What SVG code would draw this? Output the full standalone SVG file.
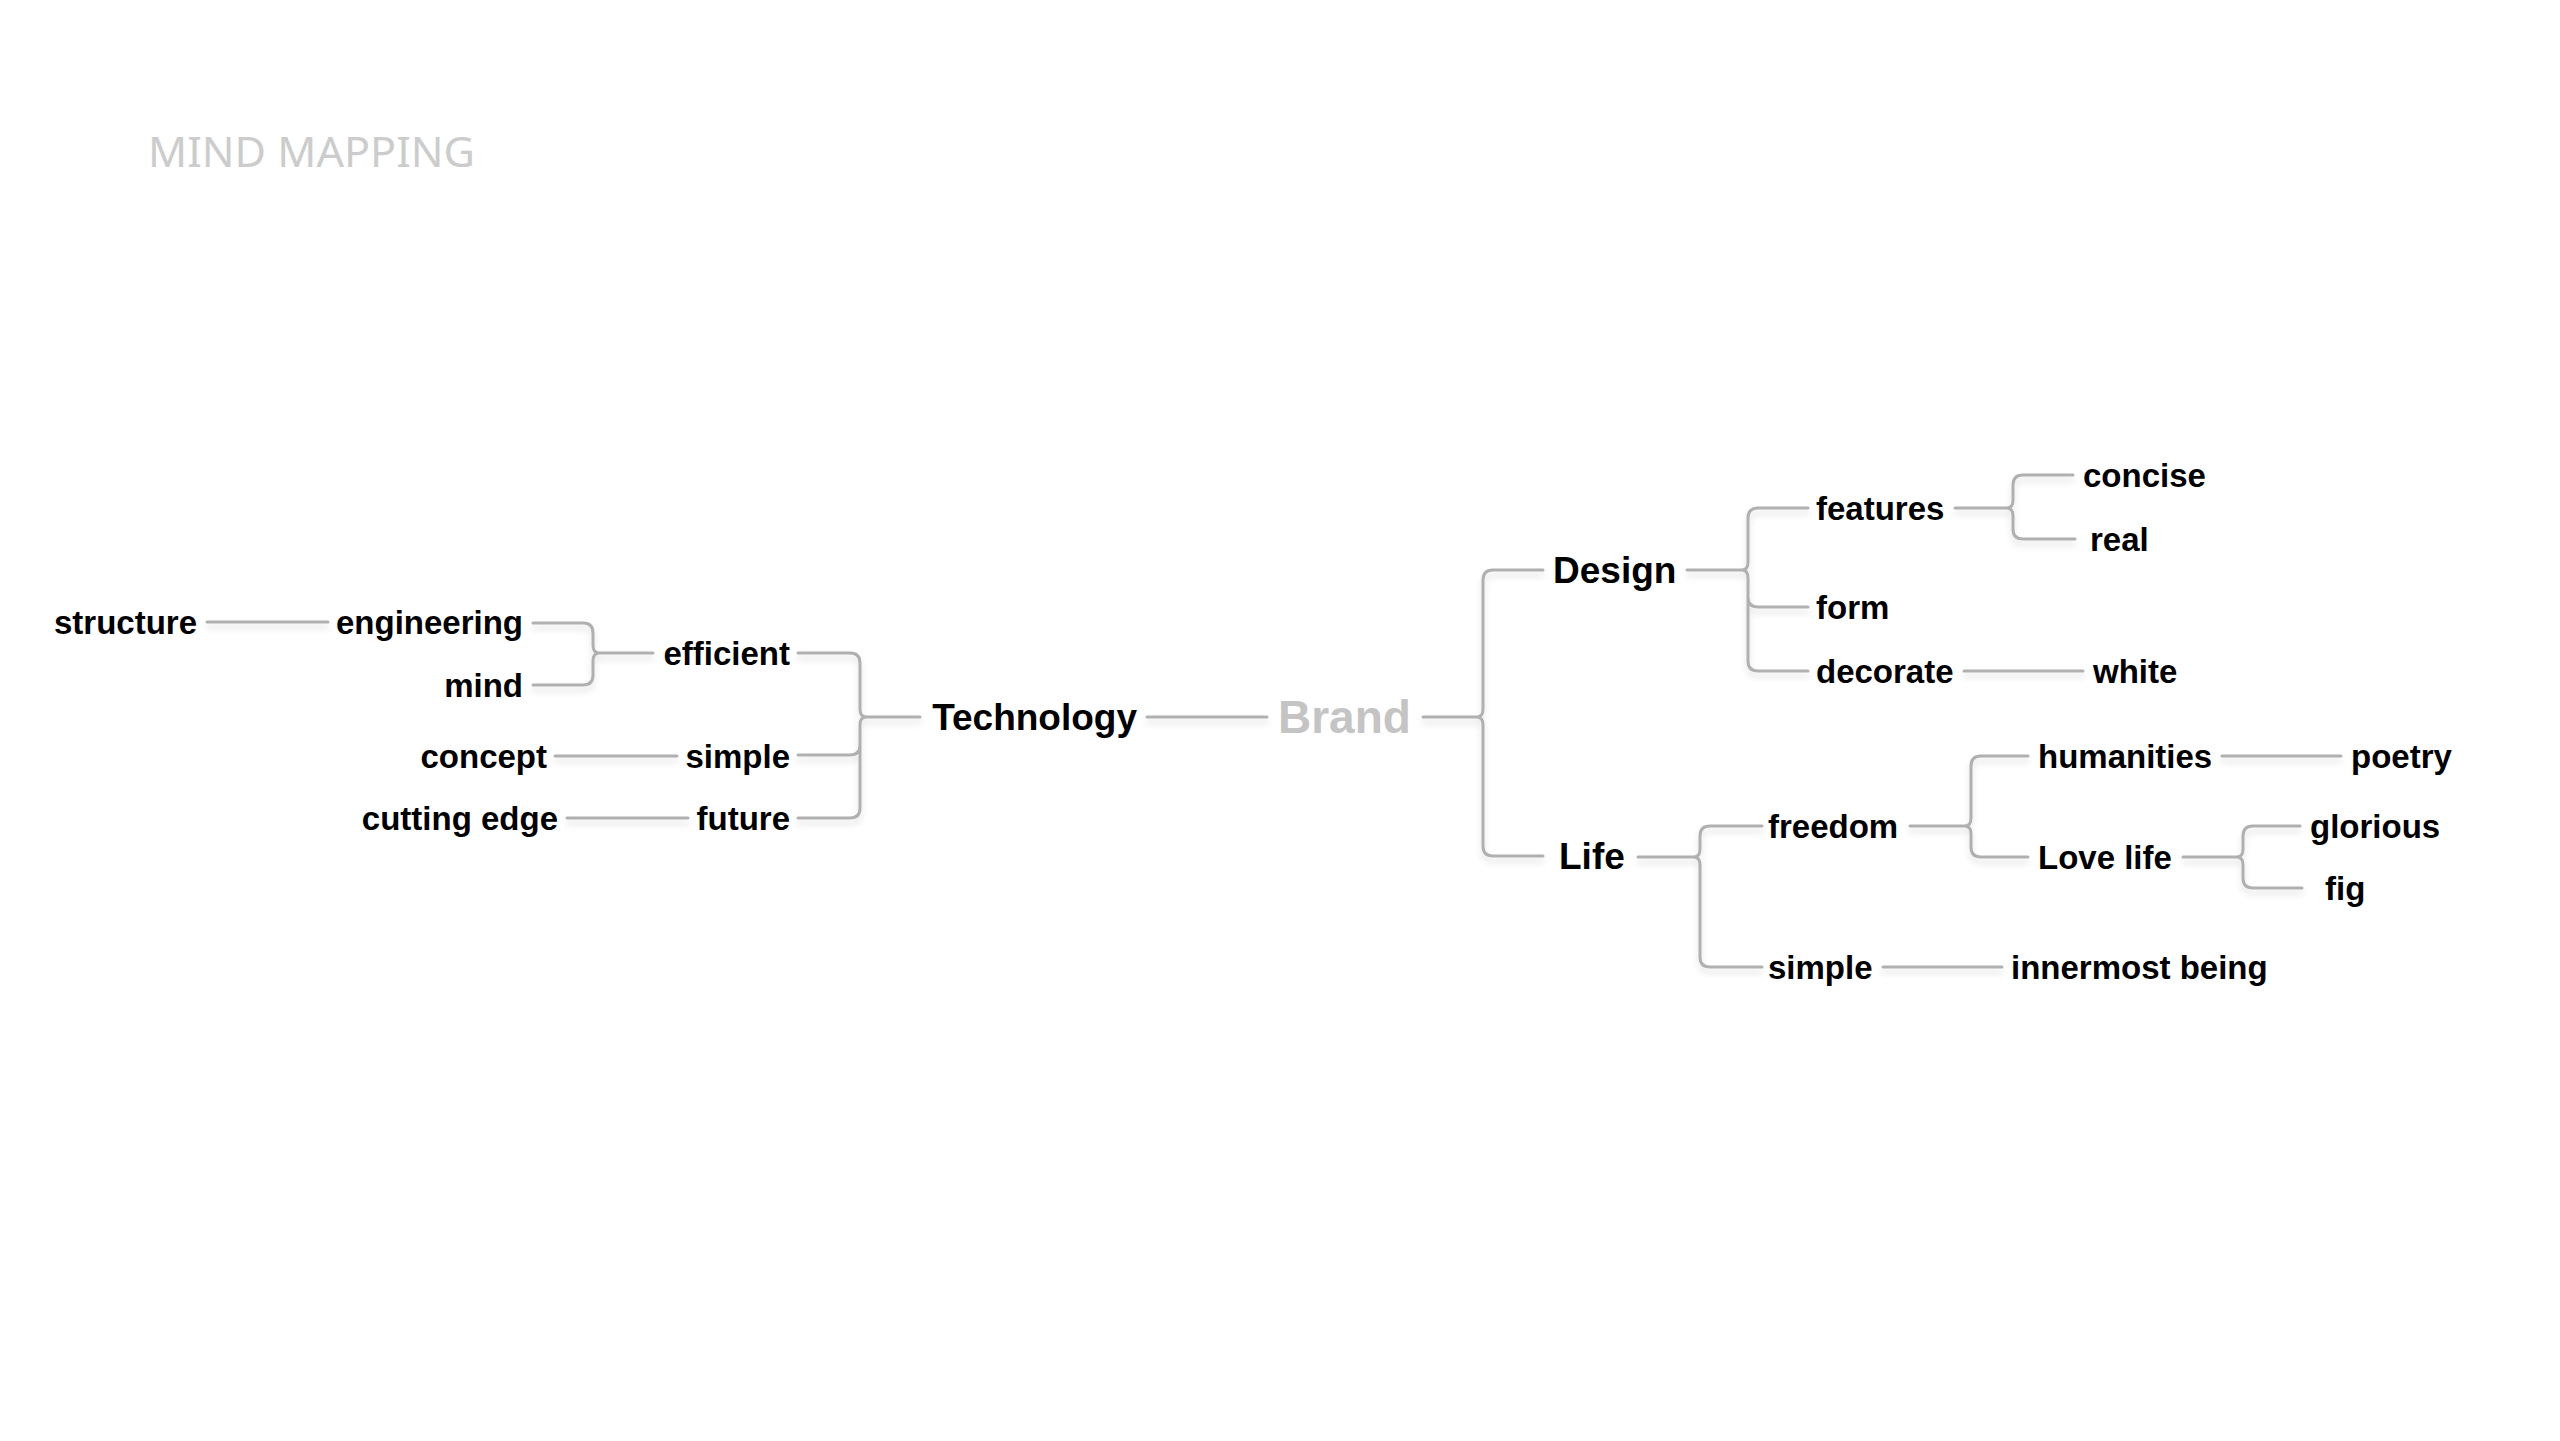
<svg xmlns="http://www.w3.org/2000/svg" width="2560" height="1441" viewBox="0 0 2560 1441">
<style>
.t{font-family:"Liberation Sans",Arial,sans-serif;font-weight:bold;font-size:33px;fill:#000}
.l{font-size:37px}
.e{text-anchor:end}
.brand{font-family:"Liberation Sans",Arial,sans-serif;font-weight:bold;font-size:46px;fill:#c4c4c4}
.title{font-family:"Noto Sans","Liberation Sans",sans-serif;font-size:42px;fill:#cccccc}
.c{fill:none;stroke:#b0b0b0;stroke-width:3;stroke-linecap:round;stroke-linejoin:round}
</style>
<defs>
<filter id="sh" x="-10%" y="-50%" width="120%" height="200%">
<feDropShadow dx="0" dy="5" stdDeviation="3" flood-color="#000" flood-opacity="0.12"/>
</filter>
</defs>
<rect width="2560" height="1441" fill="#fff"/>
<text class="title" x="148" y="167" textLength="327" lengthAdjust="spacingAndGlyphs">MIND MAPPING</text>
<g id="connectors" class="c" filter="url(#sh)">
<path d="M207 622H328"/>
<path d="M533 623H583Q593 623 593 633V645Q593 653 599 653M533 685H583Q593 685 593 675V661Q593 653 599 653H653"/>
<path d="M555 756H677"/>
<path d="M567 818H688"/>
<path d="M798 653H850Q860 653 860 663V709Q860 717 866 717M798 755H850Q860 755 860 745M798 818H850Q860 818 860 808V725Q860 717 866 717H920"/>
<path d="M1147 717H1267"/>
<path d="M1423 717H1477Q1483 717 1483 709V580Q1483 570 1493 570H1543M1477 717Q1483 717 1483 725V846Q1483 856 1493 856H1543"/>
<path d="M1687 570H1742Q1748 570 1748 562V518Q1748 508 1758 508H1808M1742 570Q1748 570 1748 578V661Q1748 671 1758 671H1808M1748 597Q1748 607 1758 607H1808"/>
<path d="M1955 508H2007Q2013 508 2013 500V485Q2013 475 2023 475H2073M2007 508Q2013 508 2013 516V529Q2013 539 2023 539H2075"/>
<path d="M1964 671H2083"/>
<path d="M1638 857H1694Q1700 857 1700 849V836Q1700 826 1710 826H1762M1694 857Q1700 857 1700 865V957Q1700 967 1710 967H1762"/>
<path d="M1910 826H1965Q1971 826 1971 818V766Q1971 756 1981 756H2028M1965 826Q1971 826 1971 834V847Q1971 857 1981 857H2028"/>
<path d="M2222 756H2341"/>
<path d="M2183 857H2237Q2243 857 2243 849V836Q2243 826 2253 826H2300M2237 857Q2243 857 2243 865V878Q2243 888 2253 888H2302"/>
<path d="M1883 967H2002"/>
</g>
<g id="brand"><text class="brand" x="1278" y="733">Brand</text></g>
<g id="technology"><text class="t l e" x="1137" y="730">Technology</text></g>
<g id="efficient"><text class="t e" x="790" y="665">efficient</text></g>
<g id="engineering"><text class="t e" x="523" y="634">engineering</text></g>
<g id="structure"><text class="t e" x="197" y="634">structure</text></g>
<g id="mind"><text class="t e" x="523" y="697">mind</text></g>
<g id="simple-tech"><text class="t e" x="790" y="768">simple</text></g>
<g id="concept"><text class="t e" x="547" y="768">concept</text></g>
<g id="future"><text class="t e" x="790" y="830">future</text></g>
<g id="cutting-edge"><text class="t e" x="558" y="830">cutting edge</text></g>
<g id="design"><text class="t l" x="1553" y="583">Design</text></g>
<g id="features"><text class="t" x="1816" y="520">features</text></g>
<g id="concise"><text class="t" x="2083" y="487">concise</text></g>
<g id="real"><text class="t" x="2090" y="551">real</text></g>
<g id="form"><text class="t" x="1816" y="619">form</text></g>
<g id="decorate"><text class="t" x="1816" y="683">decorate</text></g>
<g id="white"><text class="t" x="2093" y="683">white</text></g>
<g id="life"><text class="t l" x="1559" y="869">Life</text></g>
<g id="freedom"><text class="t" x="1768" y="838">freedom</text></g>
<g id="humanities"><text class="t" x="2038" y="768">humanities</text></g>
<g id="poetry"><text class="t" x="2351" y="768">poetry</text></g>
<g id="love-life"><text class="t" x="2038" y="869">Love life</text></g>
<g id="glorious"><text class="t" x="2310" y="838">glorious</text></g>
<g id="fig"><text class="t" x="2325" y="900">fig</text></g>
<g id="simple-life"><text class="t" x="1768" y="979">simple</text></g>
<g id="innermost-being"><text class="t" x="2011" y="979">innermost being</text></g>
</svg>
